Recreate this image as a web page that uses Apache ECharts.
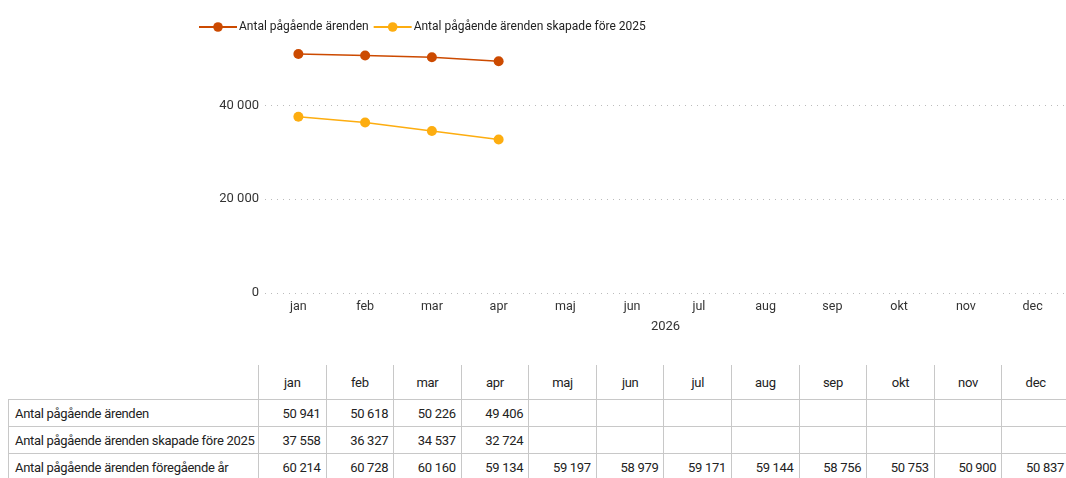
<!DOCTYPE html>
<html>
<head>
<meta charset="utf-8">
<script src="https://cdn.jsdelivr.net/npm/echarts@6/dist/echarts.min.js"></script>
<style>
  body { margin: 0; background: #fff; font-family: Roboto, "Noto Sans", sans-serif; }
  #chart { position: absolute; left: 0; top: 0; width: 1066px; height: 345px; }
  #tbl { position: absolute; left: 8px; top: 365px; width: 1062px; border-collapse: collapse; table-layout: fixed; font-size: 13px; color: #222; letter-spacing: -0.3px; }
  #tbl td, #tbl th { border: 1px solid #c8c8c8; height: 26px; padding: 0 5px; white-space: nowrap; overflow: hidden; }
  #tbl th { font-weight: normal; text-align: center; height: 34px; border-top: none; }
  #tbl th.corner { border-left: none; }
  #tbl td { text-align: right; }
  #tbl td.lbl { text-align: left; padding-left: 6px; }
</style>
</head>
<body>
<div id="chart"></div>
<table id="tbl"></table>
<script>
// kategorier och serier
const months = ['jan', 'feb', 'mar', 'apr', 'maj', 'jun', 'jul', 'aug', 'sep', 'okt', 'nov', 'dec']
const pagaende = [50941, 50618, 50226, 49406, null, null, null, null, null, null, null, null]
const skapadeFore2025 = [37558, 36327, 34537, 32724, null, null, null, null, null, null, null, null]
const foregaendeAr = [60214, 60728, 60160, 59134, 59197, 58979, 59171, 59144, 58756, 50753, 50900, 50837]
const seriesNames = ['Antal pågående ärenden', 'Antal pågående ärenden skapade före 2025', 'Antal pågående ärenden föregående år']
const yTicks = [0, 20000, 40000]

const fmt = v => (v == null ? '' : String(v).replace(/\B(?=(\d{3})+(?!\d))/g, ' '))
const font = 'Roboto, "Noto Sans", sans-serif'

const chart = echarts.init(document.getElementById('chart'))
chart.setOption({
  animation: false,
  textStyle: { fontFamily: font },
  legend: {
    left: 193,
    top: 16,
    itemWidth: 38,
    itemHeight: 12,
    itemGap: 4,
    textStyle: { fontSize: 12, color: '#222', fontFamily: font, padding: [0, 0, 0, -3] },
    data: [seriesNames[0], seriesNames[1]]
  },
  grid: { left: 265, right: -3, top: 49, bottom: 52 },
  xAxis: {
    type: 'category',
    data: months,
    name: '2026',
    nameLocation: 'middle',
    nameGap: 27,
    nameTextStyle: { fontSize: 13, color: '#333' },
    axisLine: { show: false },
    axisTick: { show: false },
    axisLabel: { fontSize: 12.5, color: '#333', margin: 7 }
  },
  yAxis: {
    type: 'value',
    min: 0,
    max: 52000,
    interval: 20000,
    axisLabel: {
      fontSize: 13, color: '#333', margin: 6, showMaxLabel: false,
      formatter: v => (yTicks.includes(v) ? fmt(v) : '')
    },
    splitLine: { showMaxLine: false, lineStyle: { type: [1, 5], color: '#bbb' } }
  },
  series: [
    {
      name: seriesNames[0],
      type: 'line',
      data: pagaende,
      symbol: 'circle',
      symbolSize: 10,
      color: '#cc4a00',
      lineStyle: { width: 1.5 }
    },
    {
      name: seriesNames[1],
      type: 'line',
      data: skapadeFore2025,
      symbol: 'circle',
      symbolSize: 10,
      color: '#fdad10',
      lineStyle: { width: 1.5 }
    }
  ]
})

// datatabell under diagrammet
const tbl = document.getElementById('tbl')
let html = '<colgroup><col style="width:250px">' + months.map(() => '<col>').join('') + '</colgroup>'
html += '<tr><th class="corner"></th>' + months.map(m => '<th>' + m + '</th>').join('') + '</tr>'
;[pagaende, skapadeFore2025, foregaendeAr].forEach((row, i) => {
  html += '<tr><td class="lbl">' + seriesNames[i] + '</td>' + row.map(v => '<td>' + fmt(v) + '</td>').join('') + '</tr>'
})
tbl.innerHTML = html
</script>
</body>
</html>
